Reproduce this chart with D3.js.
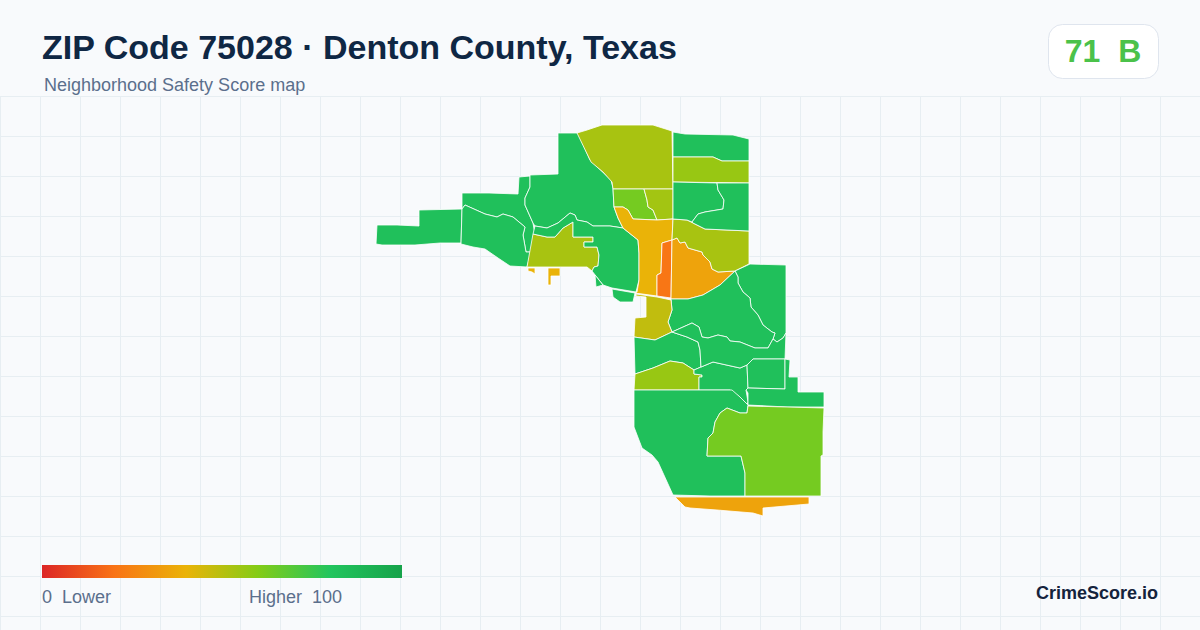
<!DOCTYPE html>
<html>
<head>
<meta charset="utf-8">
<title>ZIP Code 75028</title>
<script src="https://cdn.jsdelivr.net/npm/d3@7"></script>
<style>
  html, body { margin: 0; padding: 0; background: #f8fafc; }
  svg { display: block; }
  text { font-family: "Liberation Sans", Arial, sans-serif; white-space: pre; }
</style>
</head>
<body>
<svg id="map" width="1200" height="630"></svg>
<script>
// Titles and labels
const titleText = "ZIP Code 75028 · Denton County, Texas";
const subtitleText = "Neighborhood Safety Score map";
const badgeText = "71  B";
const brandText = "CrimeScore.io";
const legendLow = "0  Lower";
const legendHigh = "Higher  100";

// Colour ramp of the score
const rampStops = [0, 20, 40, 60, 80, 100];
const rampColors = ["#dc2626", "#f97316", "#eab308", "#84cc16", "#22c55e", "#16a34a"];

// Score of each tract, same order as tractShapes
const tractScores = [
  83, 83, 83, 83, 53, 83, 83, 83,
  53, 63, 54, 40, 21, 35, 53,
  83, 56, 83, 83, 83, 83, 48, 83,
  56, 83, 83, 83, 83, 83, 63, 35
];

// Tract outlines in map units (east, south)
const tractShapes = [
  [[[77,125],[97,125],[119,126],[119,110],[162,109],[161,143],[140,143],[115,145],[82,145],[76,144]]],
  [[[162,93],[189,93],[218,94],[219,77],[230,76],[230,87],[225,98],[225,105],[233,123],[235,135],[231,152],[226,152],[223,135],[225,127],[213,117],[203,114],[197,117],[185,114],[165,105],[162,109]]],
  [[[161,144],[162,109],[165,105],[185,114],[197,117],[203,114],[213,117],[225,127],[223,135],[226,152],[231,152],[227,167],[210,166],[198,158],[185,149],[173,147]]],
  [[[258,33],[278,33],[290,60],[311,80],[313,88],[314,107],[318,118],[323,128],[310,126],[293,126],[287,122],[277,120],[275,115],[270,113],[258,123],[247,128],[235,126],[233,123],[225,105],[225,98],[230,87],[230,75],[258,74]]],
  [[[233,134],[247,137],[255,137],[263,128],[273,122],[273,137],[293,137],[293,142],[284,142],[284,147],[297,147],[299,155],[298,166],[294,167],[292,171],[287,167],[227,167]]],
  [[[235,126],[247,128],[258,123],[270,113],[275,115],[277,120],[287,122],[293,126],[310,126],[323,128],[338,140],[339,153],[339,180],[336,192],[312,188],[303,185],[292,171],[294,167],[298,166],[299,155],[297,147],[284,147],[284,142],[293,142],[293,137],[273,137],[273,122],[263,128],[255,137],[247,137],[233,134]]],
  [[[295,175],[303,185],[296,187]]],
  [[[312,189],[335,193],[333,202],[320,202],[313,197]]],
  [[[277,33],[287,30],[302,25],[353,25],[372,31],[373,89],[313,89],[312,82],[303,72],[291,62]]],
  [[[313,89],[344,89],[347,100],[348,107],[353,110],[357,120],[333,119],[328,110],[323,107],[314,107]]],
  [[[344,89],[373,89],[373,119],[357,120],[353,110],[348,107],[347,100]]],
  [[[314,107],[323,107],[328,110],[333,119],[357,120],[373,119],[372,140],[362,143],[361,173],[357,175],[357,196],[335,193],[337,192],[339,180],[339,153],[338,140],[323,128],[318,118]],
   [[228,168],[235,168],[235,174],[232,172],[228,171]],
   [[248,168],[260,168],[260,176],[251,176],[251,185],[248,185]]],
  [[[362,143],[372,140],[371,198],[357,196],[357,175],[361,173]]],
  [[[372,140],[377,138],[380,143],[385,142],[388,148],[402,152],[403,155],[410,162],[412,169],[418,172],[435,171],[420,185],[403,195],[388,199],[371,199]]],
  [[[373,119],[387,120],[393,123],[405,129],[449,131],[449,164],[435,171],[418,172],[412,169],[410,162],[403,155],[402,152],[388,148],[385,142],[380,143],[377,138],[372,140]]],
  [[[373,32],[385,34],[433,35],[449,39],[449,61],[422,61],[413,57],[373,57]]],
  [[[373,57],[413,57],[422,61],[449,61],[449,83],[373,82]]],
  [[[373,82],[417,83],[418,90],[424,100],[423,109],[405,112],[398,114],[392,122],[387,120],[373,119]]],
  [[[417,83],[449,83],[449,131],[405,129],[393,123],[392,122],[398,114],[405,112],[423,109],[424,100],[418,90]]],
  [[[435,171],[450,164],[486,165],[486,233],[483,238],[477,242],[473,239],[475,233],[472,232],[463,225],[458,215],[451,207],[450,198],[443,192],[438,183],[438,177]]],
  [[[371,199],[388,199],[403,195],[420,185],[435,171],[438,177],[438,183],[443,192],[450,198],[451,207],[458,215],[463,225],[472,232],[475,233],[473,239],[468,248],[455,248],[440,242],[430,241],[427,237],[418,235],[408,238],[402,237],[399,227],[392,223],[372,232],[368,222],[372,210]]],
  [[[336,194],[357,197],[371,200],[372,210],[368,222],[372,232],[355,240],[334,237],[335,218],[346,217],[346,197],[336,196]]],
  [[[334,237],[355,240],[372,232],[387,237],[398,242],[400,250],[401,267],[394,270],[383,263],[370,261],[353,268],[335,274]]],
  [[[335,274],[353,268],[370,261],[383,263],[394,270],[394,274],[402,275],[402,277],[399,277],[399,290],[334,290]]],
  [[[394,270],[401,267],[413,262],[440,268],[447,265],[448,288],[446,290],[448,302],[447,304],[440,297],[430,290],[399,290],[399,277],[402,277],[402,275],[394,274]]],
  [[[372,232],[392,223],[399,227],[402,237],[408,238],[418,235],[427,237],[430,241],[440,242],[455,248],[468,248],[473,239],[477,242],[483,238],[486,233],[485,259],[453,259],[447,265],[440,268],[413,262],[401,267],[400,250],[398,242],[387,237]]],
  [[[453,259],[485,259],[485,289],[448,288],[447,265]]],
  [[[485,259],[490,260],[489,277],[498,277],[498,292],[524,292],[524,307],[487,307],[448,305],[448,293],[446,290],[448,288],[485,289]]],
  [[[334,290],[432,290],[440,297],[448,305],[447,313],[440,313],[427,308],[420,313],[415,322],[413,333],[408,338],[407,356],[441,356],[445,373],[445,396],[410,396],[373,395],[358,362],[352,355],[342,348],[334,327]]],
  [[[448,306],[487,307],[524,308],[523,332],[523,355],[521,356],[521,396],[445,396],[445,373],[441,356],[407,356],[408,338],[413,333],[415,322],[420,313],[427,308],[440,313],[447,313]]],
  [[[375,397],[410,397],[509,397],[509,404],[463,408],[463,416],[453,413],[417,410],[390,408],[385,407]]]
];

const width = 1200;
const height = 630;

const svg = d3.select("#map");

// Scale of the score colours
const color = d3.scaleLinear().domain(rampStops).range(rampColors);

// Background grid
const grid = svg.append("g")
  .attr("stroke", "#e7eef2")
  .attr("stroke-width", 1);

grid.selectAll(".vline")
  .data(d3.range(0.5, width, 40))
  .enter().append("line")
  .attr("x1", d => d).attr("x2", d => d)
  .attr("y1", 96).attr("y2", height);

grid.selectAll(".hline")
  .data(d3.range(96.5, height, 40))
  .enter().append("line")
  .attr("x1", 0).attr("x2", width)
  .attr("y1", d => d).attr("y2", d => d);

// Tracts as GeoJSON, rings have to be closed
const tracts = {
  type: "FeatureCollection",
  features: tractShapes.map((rings, i) => ({
    type: "Feature",
    properties: { score: tractScores[i] },
    geometry: {
      type: "MultiPolygon",
      coordinates: rings.map(ring => [ring.concat([ring[0]])])
    }
  }))
};

const projection = d3.geoIdentity().fitExtent([[376, 125], [824, 516]], tracts);
const path = d3.geoPath(projection);

svg.append("g").selectAll("path")
  .data(tracts.features)
  .enter().append("path")
  .attr("d", path)
  .attr("fill", d => color(d.properties.score))
  .attr("stroke", "#ffffff")
  .attr("stroke-width", 0.8)
  .attr("stroke-linejoin", "round");

// Header
svg.append("text")
  .attr("x", 42).attr("y", 59)
  .attr("font-size", 34).attr("font-weight", 700)
  .attr("fill", "#0f2744")
  .text(titleText);

svg.append("text")
  .attr("x", 44).attr("y", 91)
  .attr("font-size", 18)
  .attr("fill", "#5b6f8c")
  .text(subtitleText);

// Score badge
svg.append("rect")
  .attr("x", 1048.5).attr("y", 24.5)
  .attr("width", 110).attr("height", 54)
  .attr("rx", 14)
  .attr("fill", "#ffffff")
  .attr("stroke", "#dfe5ee");

svg.append("text")
  .attr("x", 1103).attr("y", 62)
  .attr("text-anchor", "middle")
  .attr("font-size", 32).attr("font-weight", 700)
  .attr("fill", "#4bc24a")
  .text(badgeText);

// Legend
const legendX = d3.scaleLinear().domain([0, 100]).range([42, 402]);

const gradient = svg.append("defs").append("linearGradient")
  .attr("id", "ramp");

gradient.selectAll("stop")
  .data(rampStops)
  .enter().append("stop")
  .attr("offset", d => d + "%")
  .attr("stop-color", d => color(d));

svg.append("rect")
  .attr("x", legendX(0)).attr("y", 565)
  .attr("width", legendX(100) - legendX(0)).attr("height", 13)
  .attr("fill", "url(#ramp)");

svg.append("text")
  .attr("x", legendX(0)).attr("y", 603)
  .attr("font-size", 18)
  .attr("fill", "#5b6f8c")
  .text(legendLow);

svg.append("text")
  .attr("x", 249).attr("y", 603)
  .attr("font-size", 18)
  .attr("fill", "#5b6f8c")
  .text(legendHigh);

svg.append("text")
  .attr("x", 1158).attr("y", 599)
  .attr("text-anchor", "end")
  .attr("font-size", 18).attr("font-weight", 700)
  .attr("fill", "#14233c")
  .text(brandText);
</script>
</body>
</html>
